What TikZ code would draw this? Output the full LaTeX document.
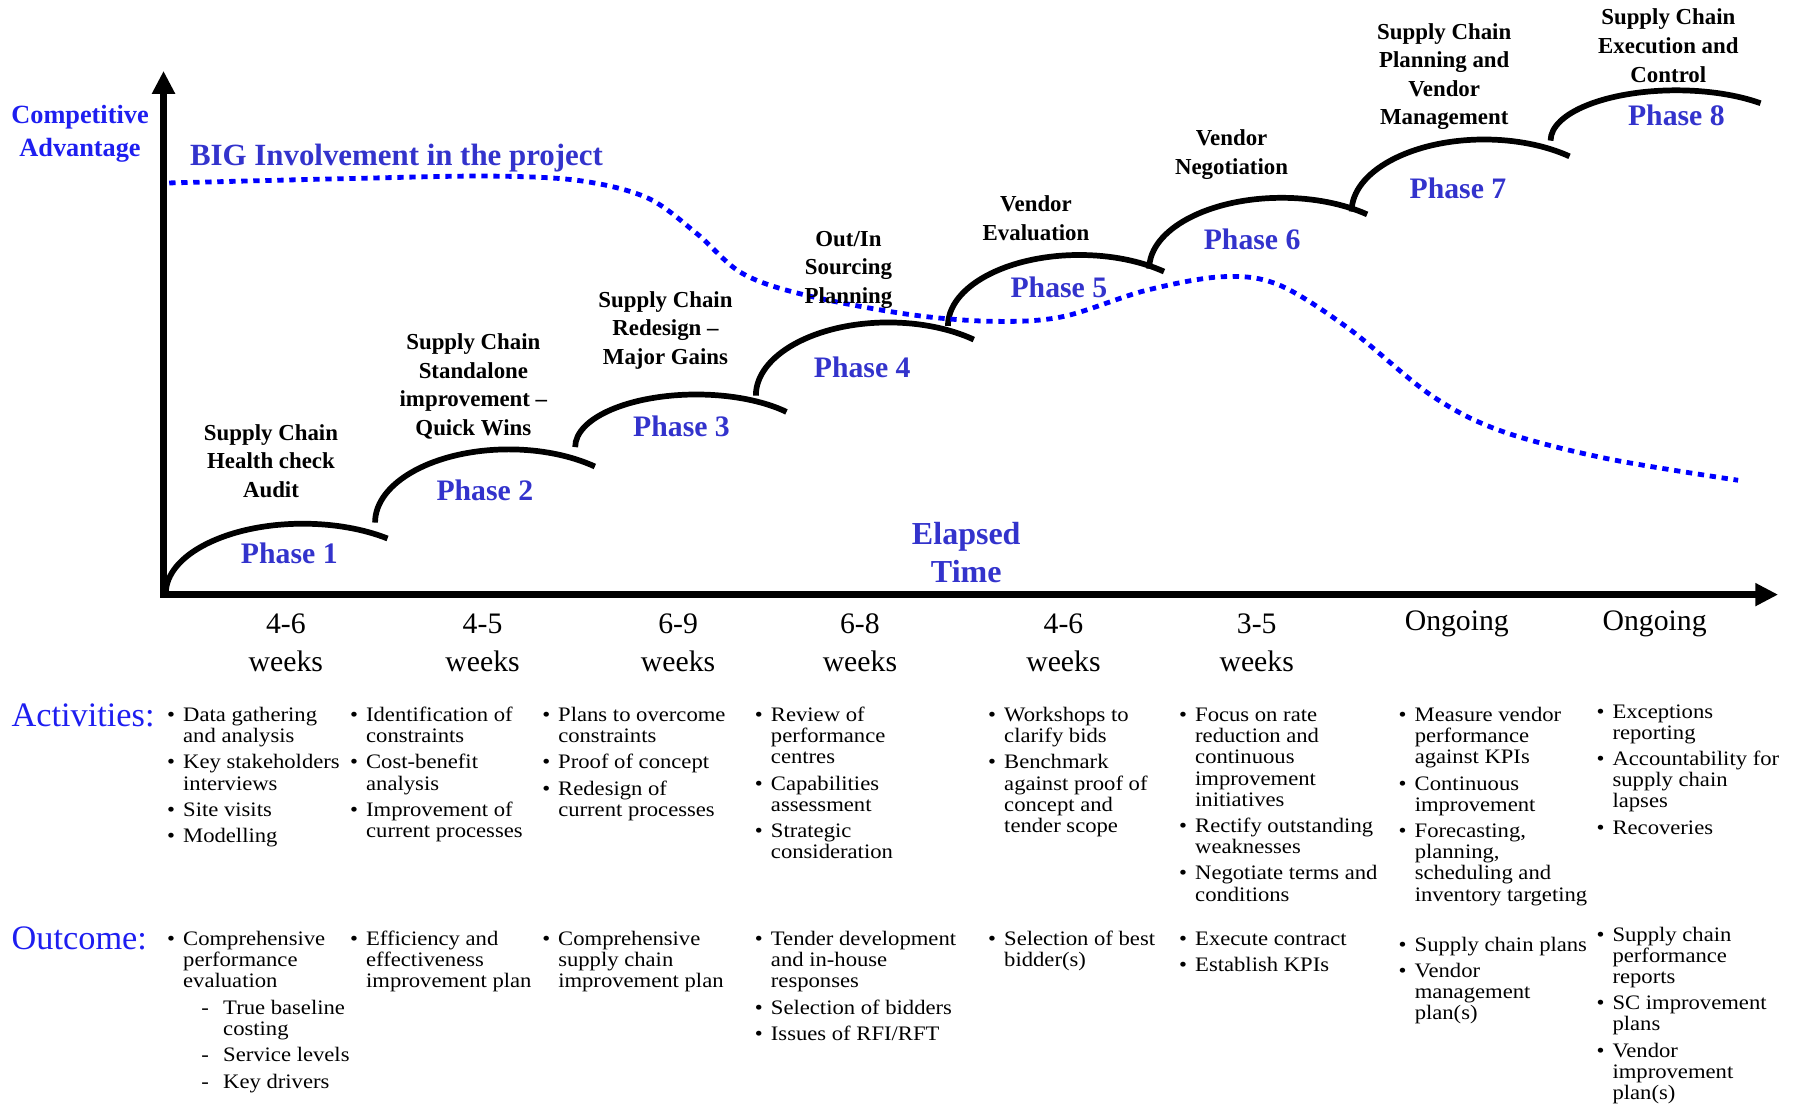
\documentclass[tikz,border=0pt]{standalone}
\usepackage{fontspec}
\setmainfont{Liberation Serif}
\newfontfamily\listfont[FakeStretch=1.1]{Liberation Serif}
\usetikzlibrary{arrows.meta}
\definecolor{phaseblue}{RGB}{51,51,204}
\definecolor{labelblue}{RGB}{30,30,240}
\definecolor{dotblue}{RGB}{0,0,255}
\newcommand{\bu}{\makebox[14pt][l]{\textbullet}}
\newcommand{\subit}[1]{\makebox[35pt][l]{\hspace{16pt}-}#1}
\newcommand{\itemcol}[1]{\begin{tabular}[t]{@{}l@{}l@{}}#1\end{tabular}}
\tikzset{
  axis/.style={line width=5.5pt,{Triangle[length=20pt,width=19pt]}-{Triangle[length=20pt,width=19pt]}},
  phasearc/.style={line width=5pt},
  involve/.style={dotblue,line width=4.2pt,dash pattern=on 5.5pt off 5pt},
  phase/.style={text=phaseblue,font=\fontsize{26}{30}\selectfont\bfseries,inner sep=0},
  title/.style={align=center,font=\fontsize{20}{25}\selectfont\bfseries,inner sep=0},
  weeks/.style={align=center,font=\fontsize{26}{33}\selectfont,inner sep=0},
  rowlabel/.style={text=labelblue,font=\fontsize{30}{30}\selectfont,anchor=west,inner sep=0},
  items/.style={anchor=base west,inner sep=0,font=\listfont\fontsize{18}{18.5}\selectfont},
}
\begin{document}
\begin{tikzpicture}[x=1pt,y=1pt]
	\useasboundingbox (0,0) rectangle (1568,969);
	\coordinate (origin) at (143,449);
	\coordinate (ytop) at (143,907);
	\coordinate (xend) at (1555,449);
	\draw[axis] (ytop) -- (origin) -- (xend);
	\foreach \x/\y/\rx/\ry/\e in {145/450/120/61/52, 328/512/117/64/50, 503/578/106/46/42, 661/623/116/64/50, 829/684/115/62/50, 1005/734/116/62/50, 1182/784/116/63/50, 1356/846/110/44/48}
		\draw[phasearc] (\x,\y) arc[start angle=180, end angle=\e, x radius=\rx, y radius=\ry];
	\draw[involve] plot[smooth, tension=0.55] coordinates {(148,809) (312,813) (429,815) (507,811) (566,796) (609,765) (649,730) (704,711) (795,694) (868,688) (929,692) (1002,715) (1069,727) (1118,720) (1179,682) (1252,623) (1313,592) (1405,568) (1520,549)};
	\node[align=center,text=labelblue,font=\fontsize{23}{28}\selectfont\bfseries,inner sep=0] (compadv) at (70,852) {Competitive\\Advantage};
	\node[anchor=west,text=phaseblue,font=\fontsize{27}{30}\selectfont\bfseries,inner sep=0] (involve) at (166,831) {BIG Involvement in the project};
	\node[phase,align=center,font=\fontsize{28}{33}\selectfont\bfseries] (elapsed) at (845,486) {Elapsed\\Time};
	\foreach \x/\y [count=\i] in {253/485, 424/540, 596/596, 754/648, 926/718, 1095/760, 1275/804, 1466/868}
		\node[phase] (phase\i) at (\x,\y) {Phase \i};
	\node[title] (title1) at (237,566) {Supply Chain\\Health check\\Audit};
	\node[title] (title2) at (414,631) {Supply Chain\\Standalone\\improvement --\\Quick Wins};
	\node[title] (title3) at (582,680) {Supply Chain\\Redesign --\\Major Gains};
	\node[title] (title4) at (742,733) {Out/In\\Sourcing\\Planning};
	\node[title] (title5) at (906,778) {Vendor\\Evaluation};
	\node[title] (title6) at (1077,834) {Vendor\\Negotiation};
	\node[title] (title7) at (1263,902) {Supply Chain\\Planning and\\Vendor\\Management};
	\node[title] (title8) at (1459,929) {Supply Chain\\Execution and\\Control};
	\foreach \x/\d [count=\i] in {250/4-6, 422/4-5, 593/6-9, 752/6-8, 930/4-6, 1099/3-5}
		\node[weeks] (dur\i) at (\x,407) {\d\\weeks};
	\node[weeks] (dur7) at (1274,423) {Ongoing};
	\node[weeks] (dur8) at (1447,423) {Ongoing};
	\node[rowlabel] (activities) at (10,343) {Activities:};
	\node[rowlabel] (outcome) at (10,148) {Outcome:};
	\node[items] (act1) at (146,338) {\itemcol{\bu & Data gathering\\ & and analysis\\[4.5pt] \bu & Key stakeholders\\ & interviews\\[4.5pt] \bu & Site visits\\[4.5pt] \bu & Modelling}};
	\node[items] (act2) at (306,338) {\itemcol{\bu & Identification of\\ & constraints\\[4.5pt] \bu & Cost-benefit\\ & analysis\\[4.5pt] \bu & Improvement of\\ & current processes}};
	\node[items] (act3) at (474,338) {\itemcol{\bu & Plans to overcome\\ & constraints\\[4.5pt] \bu & Proof of concept\\[4.5pt] \bu & Redesign of\\ & current processes}};
	\node[items] (act4) at (660,338) {\itemcol{\bu & Review of\\ & performance\\ & centres\\[4.5pt] \bu & Capabilities\\ & assessment\\[4.5pt] \bu & Strategic\\ & consideration}};
	\node[items] (act5) at (864,338) {\itemcol{\bu & Workshops to\\ & clarify bids\\[4.5pt] \bu & Benchmark\\ & against proof of\\ & concept and\\ & tender scope}};
	\node[items] (act6) at (1031,338) {\itemcol{\bu & Focus on rate\\ & reduction and\\ & continuous\\ & improvement\\ & initiatives\\[4.5pt] \bu & Rectify outstanding\\ & weaknesses\\[4.5pt] \bu & Negotiate terms and\\ & conditions}};
	\node[items] (act7) at (1223,338) {\itemcol{\bu & Measure vendor\\ & performance\\ & against KPIs\\[4.5pt] \bu & Continuous\\ & improvement\\[4.5pt] \bu & Forecasting,\\ & planning,\\ & scheduling and\\ & inventory targeting}};
	\node[items] (act8) at (1396,341) {\itemcol{\bu & Exceptions\\ & reporting\\[4.5pt] \bu & Accountability for\\ & supply chain\\ & lapses\\[4.5pt] \bu & Recoveries}};
	\node[items] (out1) at (146,142) {\itemcol{\bu & Comprehensive\\ & performance\\ & evaluation\\[4.5pt] & \subit{True baseline}\\ & \hspace{35pt}costing\\[4.5pt] & \subit{Service levels}\\[4.5pt] & \subit{Key drivers}}};
	\node[items] (out2) at (306,142) {\itemcol{\bu & Efficiency and\\ & effectiveness\\ & improvement plan}};
	\node[items] (out3) at (474,142) {\itemcol{\bu & Comprehensive\\ & supply chain\\ & improvement plan}};
	\node[items] (out4) at (660,142) {\itemcol{\bu & Tender development\\ & and in-house\\ & responses\\[4.5pt] \bu & Selection of bidders\\[4.5pt] \bu & Issues of RFI/RFT}};
	\node[items] (out5) at (864,142) {\itemcol{\bu & Selection of best\\ & bidder(s)}};
	\node[items] (out6) at (1031,142) {\itemcol{\bu & Execute contract\\[4.5pt] \bu & Establish KPIs}};
	\node[items] (out7) at (1223,137) {\itemcol{\bu & Supply chain plans\\[4.5pt] \bu & Vendor\\ & management\\ & plan(s)}};
	\node[items] (out8) at (1396,146) {\itemcol{\bu & Supply chain\\ & performance\\ & reports\\[4.5pt] \bu & SC improvement\\ & plans\\[4.5pt] \bu & Vendor\\ & improvement\\ & plan(s)}};
\end{tikzpicture}
\end{document}
